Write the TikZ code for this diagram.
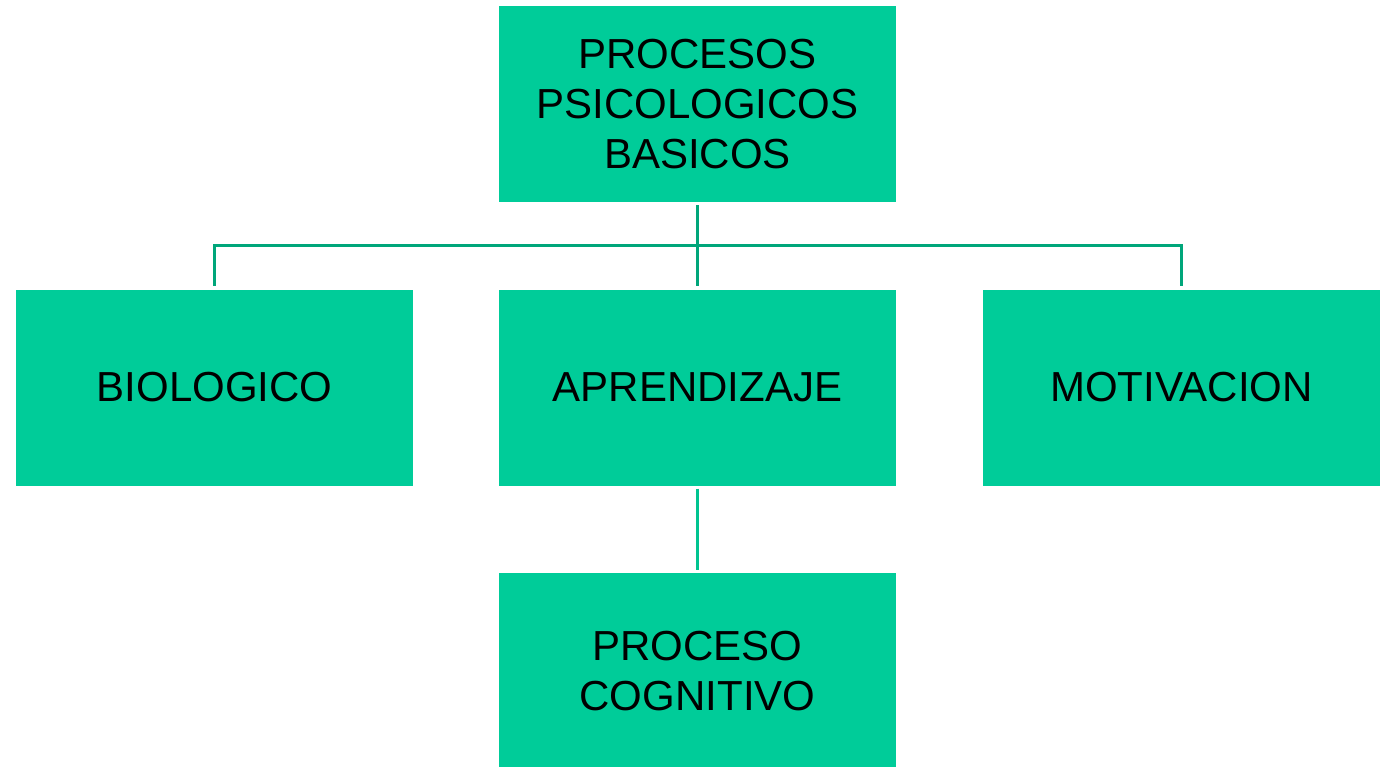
\documentclass[tikz,border=0pt]{standalone}
\usepackage{fontspec}
\setmainfont{Liberation Sans}
\definecolor{boxgreen}{HTML}{00CC99}
\definecolor{linkgreen}{HTML}{00A67A}
\definecolor{linklight}{HTML}{00C490}
\tikzset{
  procbox/.style={fill=boxgreen,minimum width=397pt,minimum height=196pt,inner sep=0,
    align=center,font=\fontsize{42}{50}\selectfont},
  link/.style={draw=linkgreen,line width=2.2pt},
}
\begin{document}
\begin{tikzpicture}[x=1pt,y=-1pt]
    \useasboundingbox (0,0) rectangle (1384,766);
    \node[procbox] (procesos) at (697.5,104) {PROCESOS\\PSICOLOGICOS\\BASICOS};
    \node[procbox] (biologico) at (214.5,387.5) {BIOLOGICO};
    \node[procbox] (aprendizaje) at (697.5,387.5) {APRENDIZAJE};
    \node[procbox] (motivacion) at (1181.5,387.5) {MOTIVACION};
    \node[procbox,minimum height=196pt] (cognitivo) at (697.5,671) {PROCESO\\COGNITIVO};
    \coordinate (hub) at (697.5,245.5);
    \draw[link,shorten <=3pt] (procesos.south) -- (hub);
    \draw[link,shorten >=3pt] (hub) -| (biologico.north);
    \draw[link,shorten >=3pt] (hub) -- (aprendizaje.north);
    \draw[link,shorten >=3pt] (hub) -| (motivacion.north);
    \draw[link,draw=linklight,shorten <=3pt,shorten >=3pt] (aprendizaje.south) -- (cognitivo.north);
\end{tikzpicture}
\end{document}
